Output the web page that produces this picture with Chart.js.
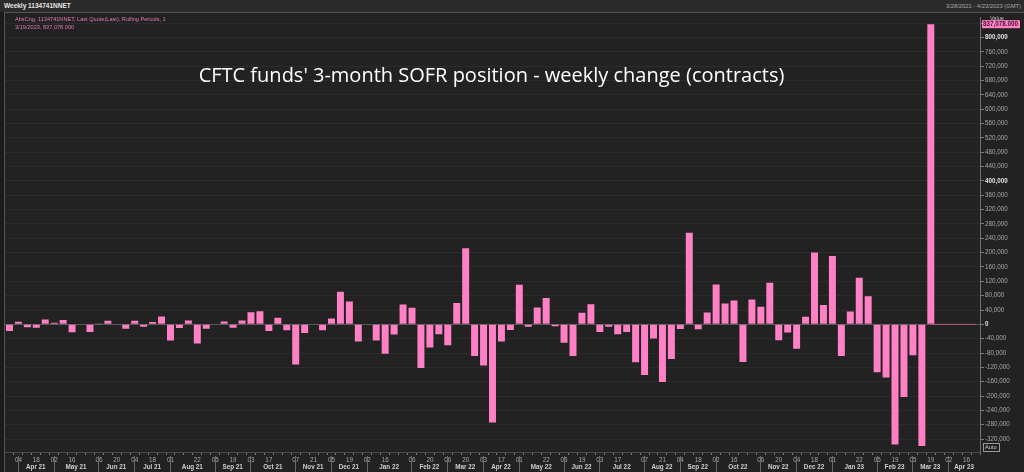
<!DOCTYPE html>
<html><head><meta charset="utf-8">
<script src="https://cdn.jsdelivr.net/npm/chart.js@4.4.0/dist/chart.umd.min.js"></script>
<style>
html,body{margin:0;padding:0;background:#1b1b1b;width:1024px;height:472px;overflow:hidden;font-family:'Liberation Sans',Arial,sans-serif;}
#hdr{position:absolute;left:0;top:0;width:1024px;height:12px;background:#2b2b2b;}
#hdrL{position:absolute;left:4px;top:2px;font-size:6.5px;font-weight:bold;color:#e6e6e6;line-height:8px;}
#hdrR{position:absolute;right:3px;top:2px;font-size:5.8px;color:#a8a8a8;line-height:8px;}
#panel{position:absolute;left:4px;top:12px;width:1020px;height:460px;background:#222;border-left:1px solid #555;border-top:1px solid #555;box-sizing:border-box;}
#wrap{position:absolute;left:5px;top:13px;width:1019px;height:459px;}
#leg{position:absolute;left:15px;top:15px;font-size:5.6px;color:#e07ab0;line-height:8px;}
#title{position:absolute;left:4px;width:975px;text-align:center;top:61px;font-size:20px;color:#ffffff;font-family:'Open Sans',sans-serif;white-space:nowrap;}
</style>
</head><body>
<div id="hdr"><div id="hdrL">Weekly 1134741NNET</div><div id="hdrR">3/28/2021 - 4/23/2023 (GMT)</div></div>
<div id="panel"></div>
<div id="wrap"><canvas id="c" width="1019" height="459"></canvas></div>
<div id="leg">AbsCng, 1134741NNET, Last Quote(Last), Rolling Periods, 1<br>3/19/2023, 837,078.000</div>
<div id="title">CFTC funds' 3-month SOFR position - weekly change (contracts)</div>
<script>
// ---- data ----
const weeks = [
 '2021-03-28','2021-04-04','2021-04-11','2021-04-18','2021-04-25','2021-05-02','2021-05-09','2021-05-16','2021-05-23','2021-05-30',
 '2021-06-06','2021-06-13','2021-06-20','2021-06-27','2021-07-04','2021-07-11','2021-07-18','2021-07-25','2021-08-01','2021-08-08',
 '2021-08-15','2021-08-22','2021-08-29','2021-09-05','2021-09-12','2021-09-19','2021-09-26','2021-10-03','2021-10-10','2021-10-17',
 '2021-10-24','2021-10-31','2021-11-07','2021-11-14','2021-11-21','2021-11-28','2021-12-05','2021-12-12','2021-12-19','2021-12-26',
 '2022-01-02','2022-01-09','2022-01-16','2022-01-23','2022-01-30','2022-02-06','2022-02-13','2022-02-20','2022-02-27','2022-03-06',
 '2022-03-13','2022-03-20','2022-03-27','2022-04-03','2022-04-10','2022-04-17','2022-04-24','2022-05-01','2022-05-08','2022-05-15',
 '2022-05-22','2022-05-29','2022-06-05','2022-06-12','2022-06-19','2022-06-26','2022-07-03','2022-07-10','2022-07-17','2022-07-24',
 '2022-07-31','2022-08-07','2022-08-14','2022-08-21','2022-08-28','2022-09-04','2022-09-11','2022-09-18','2022-09-25','2022-10-02',
 '2022-10-09','2022-10-16','2022-10-23','2022-10-30','2022-11-06','2022-11-13','2022-11-20','2022-11-27','2022-12-04','2022-12-11',
 '2022-12-18','2022-12-25','2023-01-01','2023-01-08','2023-01-15','2023-01-22','2023-01-29','2023-02-05','2023-02-12','2023-02-19',
 '2023-02-26','2023-03-05','2023-03-12','2023-03-19','2023-03-26','2023-04-02','2023-04-09','2023-04-16','2023-04-23'
];
const weeklyChange = [
 -18400, 7400, -8300, -9200, 13800, 4600, 12000, -22000, -1000, -21000,
 1000, 10100, -1000, -12000, 10100, -6400, 6400, 22000, -45000, -10100,
 11000, -53300, -12000, -1000, 8300, -9200, 10500, 34000, 36800, -18400,
 18400, -16600, -112000, -23900, 0, -16600, 16600, 91000, 63500, -47800,
 2000, -45000, -81900, -28500, 55200, 46000, -121400, -64400, -27600, -58000,
 59800, 212500, -88300, -115000, -274000, -47800, -15600, 110400, -6400, 46900,
 73600, -5500, -51500, -88300, 32200, 56100, -21200, -6400, -27600, -21200,
 -105800, -141600, -39600, -161000, -96600, -12900, 255700, -13800, 33100, 111300,
 58000, 66200, -104900, 69000, 48800, 115900, -44200, -23000, -68000, 21200,
 200500, 54300, 190400, -88300, 35900, 129700, 78200, -133400, -148100, -334800,
 -202300, -86500, -339500, 837078
];
const tailLine = [0, 0, 0, 0, 0, 0]; // flat line from last reading to end of range
const dayTickDates = [
 '2021-04-04','2021-04-18','2021-05-02','2021-05-16','2021-06-06','2021-06-20','2021-07-04','2021-07-18','2021-08-01','2021-08-22',
 '2021-09-05','2021-09-19','2021-10-03','2021-10-17','2021-11-07','2021-11-21','2021-12-05','2021-12-19','2022-01-02','2022-01-16',
 '2022-02-06','2022-02-20','2022-03-06','2022-03-20','2022-04-03','2022-04-17','2022-05-01','2022-05-22','2022-06-05','2022-06-19',
 '2022-07-03','2022-07-17','2022-08-07','2022-08-21','2022-09-04','2022-09-18','2022-10-02','2022-10-16','2022-11-06','2022-11-20',
 '2022-12-04','2022-12-18','2023-01-01','2023-01-22','2023-02-05','2023-02-19','2023-03-05','2023-03-19','2023-04-02','2023-04-16'
];
const monthLabels = ['Apr 21','May 21','Jun 21','Jul 21','Aug 21','Sep 21','Oct 21','Nov 21','Dec 21','Jan 22','Feb 22','Mar 22',
 'Apr 22','May 22','Jun 22','Jul 22','Aug 22','Sep 22','Oct 22','Nov 22','Dec 22','Jan 23','Feb 23','Mar 23','Apr 23'];
const yMin = -356000, yMax = 855000, yStep = 40000;
const lastValueText = '837,078.000';

// ---- build ----
const barData = weeks.map((w, i) => i < weeklyChange.length ? weeklyChange[i] : null);
const tailStart = weeklyChange.length - 1;
const lineData = weeks.map((w, i) => i >= tailStart ? tailLine[i - tailStart] : null);
const daySet = new Set(dayTickDates);
const FONT = "'Liberation Sans', Arial, sans-serif";
const MON = ['Jan','Feb','Mar','Apr','May','Jun','Jul','Aug','Sep','Oct','Nov','Dec'];
const isMajor = c => !!(c && c.tick && c.tick.value % 400000 === 0);

const overlay = {
  id: 'overlay',
  afterDraw(chart) {
    const ctx = chart.ctx, xs = chart.scales.x, ys = chart.scales.y, ca = chart.chartArea;
    ctx.save();
    const groups = [];
    weeks.forEach((w, i) => {
      const key = w.slice(0, 7);
      if (!groups.length || groups[groups.length - 1].key !== key) groups.push({ key, start: i });
    });
    ctx.font = "bold 6.3px " + FONT;
    ctx.textAlign = 'center';
    ctx.textBaseline = 'middle';
    groups.forEach((g, gi) => {
      const d = new Date(g.key + '-01T00:00:00Z');
      const lbl = MON[d.getUTCMonth()] + ' ' + g.key.slice(2, 4);
      if (!monthLabels.includes(lbl)) return;
      const x0 = xs.getPixelForValue(g.start) - 0.5;
      const x1 = gi + 1 < groups.length ? xs.getPixelForValue(groups[gi + 1].start) - 0.5 : ca.right;
      ctx.strokeStyle = '#6a6a6a';
      ctx.lineWidth = 1;
      ctx.beginPath();
      ctx.moveTo(Math.round(x0) + 0.5, ca.bottom + 4);
      ctx.lineTo(Math.round(x0) + 0.5, ca.bottom + 20);
      ctx.stroke();
      ctx.fillStyle = '#cfcfcf';
      ctx.fillText(lbl, (x0 + x1) / 2, ca.bottom + 15);
    });
    const yv = ys.getPixelForValue(weeklyChange[weeklyChange.length - 1]);
    ctx.font = "5.6px " + FONT;
    ctx.fillStyle = '#bdbdbd';
    ctx.textAlign = 'left';
    ctx.fillText('Value', ca.right + 10, yv - 6);
    ctx.fillStyle = '#ff80c4';
    ctx.fillRect(ca.right + 2, yv - 4, 38, 8);
    ctx.font = "bold 6.3px " + FONT;
    ctx.fillStyle = '#4a1030';
    ctx.fillText(lastValueText, ca.right + 3, yv + 0.5);
    ctx.strokeStyle = '#9a9a9a';
    ctx.lineWidth = 1;
    ctx.strokeRect(ca.right + 3.5, ca.bottom - 8.5, 16, 8);
    ctx.fillStyle = '#cfcfcf';
    ctx.font = "5.6px " + FONT;
    ctx.fillText('Auto', ca.right + 5, ca.bottom - 4.3);
    ctx.restore();
  }
};

new Chart(document.getElementById('c'), {
  data: {
    labels: weeks,
    datasets: [
      { type: 'line', data: lineData, borderColor: '#b8577f', borderWidth: 1, pointRadius: 0, spanGaps: false, order: 0 },
      { type: 'bar', data: barData, backgroundColor: '#ff80c4', borderWidth: 0,
        categoryPercentage: 1.0, barPercentage: 0.78, order: 1 }
    ]
  },
  options: {
    responsive: false,
    animation: false,
    layout: { padding: 0 },
    plugins: { legend: { display: false }, tooltip: { enabled: false }, title: { display: false } },
    scales: {
      x: {
        type: 'category',
        offset: true,
        grid: { display: true, drawOnChartArea: false, drawTicks: true, tickLength: 3, tickColor: '#777', color: '#777' },
        border: { display: true, color: '#4a4a4a' },
        ticks: {
          autoSkip: false, maxRotation: 0, minRotation: 0, padding: 1,
          color: '#a8a8a8', font: { size: 6.3, family: FONT },
          callback: (v, i) => daySet.has(weeks[i]) ? weeks[i].slice(8) : ''
        },
        afterFit: s => { s.height = 20; }
      },
      y: {
        type: 'linear',
        position: 'right',
        min: yMin, max: yMax,
        afterBuildTicks: axis => {
          const t = [];
          for (let v = Math.ceil(yMin / yStep) * yStep; v <= yMax; v += yStep) t.push({ value: v });
          axis.ticks = t;
        },
        grid: {
          color: c => (c && c.tick && c.tick.value === 0) ? '#5a5a5a' : '#2c2c2c',
          tickLength: 4, tickColor: '#7a7a7a', drawTicks: true
        },
        border: { display: true, color: '#707070' },
        ticks: {
          autoSkip: false, padding: 1,
          color: c => isMajor(c) ? '#e0e0e0' : '#a8a8a8',
          font: c => ({ size: 6.3, family: FONT, weight: isMajor(c) ? 'bold' : 'normal' }),
          callback: v => v.toLocaleString('en-US')
        },
        afterFit: s => { s.width = 44; }
      }
    }
  },
  plugins: [overlay]
});
</script>
</body></html>
